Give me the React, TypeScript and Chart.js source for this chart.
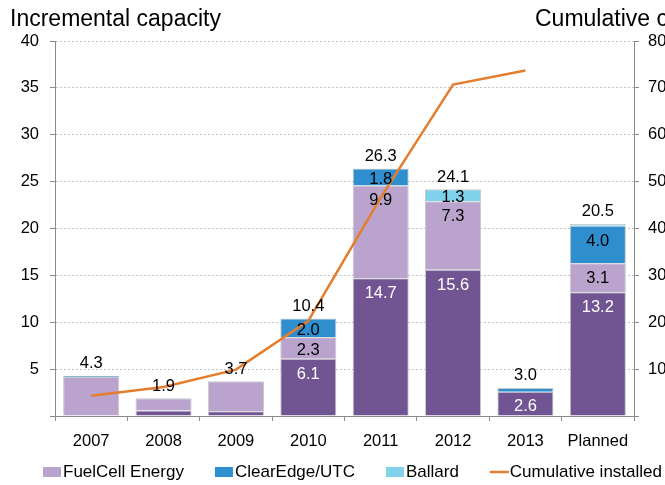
import React, { useEffect, useRef } from "react";
import { Chart, registerables } from "chart.js";

Chart.register(...registerables);

const categories = ["2007", "2008", "2009", "2010", "2011", "2012", "2013", "Planned"];
const bloom = [0, 0.6, 0.5, 6.1, 14.7, 15.6, 2.6, 13.2];
const fuelCell = [4.15, 1.3, 3.2, 2.3, 9.9, 7.3, 0, 3.1];
const clearEdge = [0.15, 0, 0, 2.0, 1.8, 0, 0.4, 4.0];
const ballard = [0, 0, 0, 0, 0, 1.3, 0, 0.2];
const cumulative = [4.3, 6.2, 9.9, 20.3, 46.6, 70.7, 73.7, null];
const totalLabels = ["4.3", "1.9", "3.7", "10.4", "26.3", "24.1", "3.0", "20.5"];
const segmentLabelShown = [false, false, false, true, true, true, true, true];

const leftTitle = "Incremental capacity";
const rightTitle = "Cumulative capacity";

const FONT = "'Liberation Sans', Arial, sans-serif";
const C_BLOOM = "#715492";
const C_FUEL = "#BAA4CE";
const C_CLEAR = "#2F8FCE";
const C_BALLARD = "#80D2EC";
const C_LINE = "#E57D2E";
const C_AXIS = "#8A8A8A";
const C_BORDER = "#C9C9C9";

const legendItems = [
  { label: "FuelCell Energy", color: C_FUEL, type: "box" },
  { label: "ClearEdge/UTC", color: C_CLEAR, type: "box" },
  { label: "Ballard", color: C_BALLARD, type: "box" },
  { label: "Cumulative installed", color: C_LINE, type: "line" },
];

const nz = (arr: number[]) => arr.map((v) => (v === 0 ? null : v));

const labelsPlugin = {
  id: "customLabels",
  afterDatasetsDraw(chart: any) {
    const ctx = chart.ctx;
    ctx.save();
    ctx.font = `16.5px ${FONT}`;
    ctx.textAlign = "center";
    ctx.textBaseline = "middle";
    const barSets = [0, 1, 2, 3];
    const rawSets = [bloom, fuelCell, clearEdge, ballard];
    const colors = ["#FFFFFF", "#000000", "#000000", "#000000"];
    for (let i = 0; i < categories.length; i++) {
      let top = Infinity;
      let cx = 0;
      barSets.forEach((di, k) => {
        const el = chart.getDatasetMeta(di).data[i];
        const v = rawSets[k][i];
        if (!el || !v) return;
        cx = el.x;
        top = Math.min(top, el.y);
        if (segmentLabelShown[i] && v >= 1) {
          const h = el.base - el.y;
          const off = Math.min(15.5, h / 2 + 2.5);
          ctx.fillStyle = colors[k];
          ctx.fillText(v.toFixed(1), el.x, el.y + off);
        }
      });
      if (top < Infinity) {
        ctx.fillStyle = "#000";
        ctx.fillText(totalLabels[i], cx, top - 12);
      }
    }
    ctx.restore();
  },
  afterDraw(chart: any) {
    const ctx = chart.ctx;
    ctx.save();
    ctx.fillStyle = "#000";
    ctx.textBaseline = "middle";
    ctx.textAlign = "left";
    ctx.font = `23px ${FONT}`;
    ctx.fillText(leftTitle, 10, 20);
    ctx.fillText(rightTitle, 535, 20);
    ctx.font = `17px ${FONT}`;
    const ly = 472;
    let x = 43;
    legendItems.forEach((it) => {
      if (it.type === "box") {
        ctx.fillStyle = it.color;
        ctx.fillRect(x, ly - 5, 18, 10);
      } else {
        ctx.strokeStyle = it.color;
        ctx.lineWidth = 2.5;
        ctx.beginPath();
        ctx.moveTo(x, ly);
        ctx.lineTo(x + 19, ly);
        ctx.stroke();
      }
      ctx.fillStyle = "#000";
      ctx.fillText(it.label, x + 20, ly);
      x += 20 + ctx.measureText(it.label).width + 31;
    });
    ctx.restore();
  },
};

export default function App() {
  const ref = useRef<HTMLCanvasElement | null>(null);
  useEffect(() => {
    if (!ref.current) return;
    const W = 720;
    const barCommon = {
      borderColor: C_BORDER,
      borderWidth: 1,
      barPercentage: 0.775,
      categoryPercentage: 1,
      yAxisID: "y",
      order: 1,
      stack: "s",
    };
    const chart = new Chart(ref.current, {
      type: "bar",
      data: {
        labels: categories,
        datasets: [
          { ...barCommon, label: "Bloom Energy", data: nz(bloom), backgroundColor: C_BLOOM },
          { ...barCommon, label: "FuelCell Energy", data: nz(fuelCell), backgroundColor: C_FUEL },
          { ...barCommon, label: "ClearEdge/UTC", data: nz(clearEdge), backgroundColor: C_CLEAR },
          { ...barCommon, label: "Ballard", data: nz(ballard), backgroundColor: C_BALLARD },
          {
            type: "line",
            label: "Cumulative installed",
            data: cumulative,
            borderColor: C_LINE,
            backgroundColor: C_LINE,
            borderWidth: 2.5,
            pointRadius: 0,
            tension: 0,
            yAxisID: "y1",
            order: 0,
          } as any,
        ],
      },
      options: {
        responsive: false,
        animation: false,
        devicePixelRatio: 1,
        layout: { padding: { left: 0, right: W - 634 - 40, top: 41, bottom: 0 } },
        plugins: {
          legend: { display: false },
          tooltip: { enabled: false },
          title: { display: false },
        },
        scales: {
          x: {
            stacked: true,
            offset: true,
            grid: {
              offset: true,
              drawOnChartArea: false,
              drawTicks: true,
              tickLength: 5,
              color: C_AXIS,
            },
            border: { color: C_AXIS },
            ticks: {
              color: "#000",
              font: { family: FONT, size: 16.5 },
              padding: 11,
              maxRotation: 0,
              autoSkip: false,
            },
            afterFit: (s: any) => {
              s.height = 69;
            },
          },
          y: {
            position: "left",
            stacked: true,
            min: 0,
            max: 40,
            ticks: {
              stepSize: 5,
              color: "#000",
              font: { family: FONT, size: 16.5 },
              padding: 11,
              callback: (v: any) => (v === 0 ? "" : String(v)),
            },
            grid: {
              color: "#C4C4C4",
              lineWidth: 1,
              drawTicks: true,
              tickLength: 5,
              tickColor: C_AXIS,
              tickBorderDash: [],
            },
            border: { color: C_AXIS, dash: [2, 2] },
            afterFit: (s: any) => {
              s.width = 55;
            },
          },
          y1: {
            position: "right",
            min: 0,
            max: 80,
            ticks: {
              stepSize: 10,
              color: "#000",
              font: { family: FONT, size: 16.5 },
              padding: 9,
              callback: (v: any) => (v === 0 ? "" : String(v)),
            },
            grid: {
              drawOnChartArea: false,
              drawTicks: true,
              tickLength: 5,
              color: C_AXIS,
            },
            border: { color: C_AXIS },
            afterFit: (s: any) => {
              s.width = 40;
            },
          },
        },
      } as any,
      plugins: [labelsPlugin],
    });
    return () => chart.destroy();
  }, []);

  return (
    <div
      style={{
        position: "absolute",
        left: 0,
        top: 0,
        width: 665,
        height: 485,
        overflow: "hidden",
        background: "#fff",
      }}
    >
      <canvas ref={ref} width={720} height={485} style={{ width: 720, height: 485, display: "block" }} />
    </div>
  );
}
